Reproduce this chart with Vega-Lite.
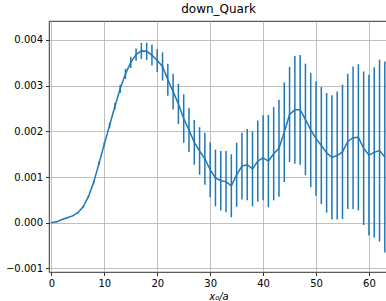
{
  "$schema": "https://vega.github.io/schema/vega-lite/v6.json",
  "width": 339,
  "height": 251,
  "autosize": "none",
  "padding": {"left": 49, "top": 21, "right": 0, "bottom": 29},
  "title": {"text": "down_Quark", "fontSize": 12, "font": "DejaVu Sans", "fontWeight": "normal", "color": "black", "offset": 5},
  "config": {
    "view": {"stroke": "black", "strokeWidth": 0.8},
    "axis": {
      "domain": false,
      "grid": true,
      "gridColor": "#b0b0b0",
      "gridWidth": 0.8,
      "tickColor": "black",
      "tickSize": 3.5,
      "tickWidth": 0.8,
      "labelFont": "DejaVu Sans",
      "labelFontSize": 10,
      "labelColor": "black",
      "labelPadding": 3,
      "titleFont": "DejaVu Sans",
      "titleColor": "black"
    }
  },
  "data": {"values": [
    {"x": 0, "y": 0.0, "err": 0.00001},
    {"x": 1, "y": 0.00002, "err": 0.00001},
    {"x": 2, "y": 0.00007, "err": 0.00001},
    {"x": 3, "y": 0.00011, "err": 0.00001},
    {"x": 4, "y": 0.00015, "err": 0.00001},
    {"x": 5, "y": 0.00022, "err": 0.00001},
    {"x": 6, "y": 0.00035, "err": 0.00002},
    {"x": 7, "y": 0.00057, "err": 0.00002},
    {"x": 8, "y": 0.00089, "err": 0.00003},
    {"x": 9, "y": 0.0013, "err": 0.00004},
    {"x": 10, "y": 0.00172, "err": 0.00005},
    {"x": 11, "y": 0.00213, "err": 0.00006},
    {"x": 12, "y": 0.00255, "err": 0.00007},
    {"x": 13, "y": 0.00293, "err": 0.00009},
    {"x": 14, "y": 0.00326, "err": 0.00011},
    {"x": 15, "y": 0.00351, "err": 0.000124},
    {"x": 16, "y": 0.00368, "err": 0.000135},
    {"x": 17, "y": 0.00376, "err": 0.000175},
    {"x": 18, "y": 0.00375, "err": 0.00019},
    {"x": 19, "y": 0.00367, "err": 0.00023},
    {"x": 20, "y": 0.00355, "err": 0.00025},
    {"x": 21, "y": 0.00342, "err": 0.00031},
    {"x": 22, "y": 0.00313, "err": 0.00035},
    {"x": 23, "y": 0.00287, "err": 0.00039},
    {"x": 24, "y": 0.0026, "err": 0.00044},
    {"x": 25, "y": 0.00228, "err": 0.00053},
    {"x": 26, "y": 0.00203, "err": 0.00048},
    {"x": 27, "y": 0.00176, "err": 0.00049},
    {"x": 28, "y": 0.00157, "err": 0.00052},
    {"x": 29, "y": 0.0014, "err": 0.00057},
    {"x": 30, "y": 0.00116, "err": 0.0006},
    {"x": 31, "y": 0.00098, "err": 0.00062},
    {"x": 32, "y": 0.00092, "err": 0.00065},
    {"x": 33, "y": 0.0009, "err": 0.00067},
    {"x": 34, "y": 0.00081, "err": 0.00069},
    {"x": 35, "y": 0.00105, "err": 0.0007},
    {"x": 36, "y": 0.00124, "err": 0.00073},
    {"x": 37, "y": 0.00127, "err": 0.00078},
    {"x": 38, "y": 0.00118, "err": 0.00082},
    {"x": 39, "y": 0.00135, "err": 0.00089},
    {"x": 40, "y": 0.00142, "err": 0.00093},
    {"x": 41, "y": 0.00135, "err": 0.00101},
    {"x": 42, "y": 0.00151, "err": 0.00102},
    {"x": 43, "y": 0.00163, "err": 0.00106},
    {"x": 44, "y": 0.00198, "err": 0.00109},
    {"x": 45, "y": 0.00237, "err": 0.00104},
    {"x": 46, "y": 0.00247, "err": 0.00118},
    {"x": 47, "y": 0.00247, "err": 0.0012},
    {"x": 48, "y": 0.00226, "err": 0.00122},
    {"x": 49, "y": 0.00203, "err": 0.00125},
    {"x": 50, "y": 0.00184, "err": 0.00125},
    {"x": 51, "y": 0.00169, "err": 0.00128},
    {"x": 52, "y": 0.00153, "err": 0.00131},
    {"x": 53, "y": 0.00143, "err": 0.00136},
    {"x": 54, "y": 0.00147, "err": 0.0014},
    {"x": 55, "y": 0.00155, "err": 0.00147},
    {"x": 56, "y": 0.00178, "err": 0.00148},
    {"x": 57, "y": 0.00186, "err": 0.00156},
    {"x": 58, "y": 0.00187, "err": 0.0016},
    {"x": 59, "y": 0.00163, "err": 0.00168},
    {"x": 60, "y": 0.00148, "err": 0.00176},
    {"x": 61, "y": 0.00154, "err": 0.00186},
    {"x": 62, "y": 0.00158, "err": 0.00199},
    {"x": 63, "y": 0.00144, "err": 0.00209}
  ]},
  "layer": [
    {
      "mark": {"type": "errorbar", "color": "#1f77b4", "thickness": 1.5},
      "encoding": {
        "x": {"field": "x", "type": "quantitative", "scale": {"domain": [-0.45, 63.6], "nice": false, "zero": false},
              "axis": {"values": [0, 10, 20, 30, 40, 50, 60], "title": "x₀/a", "titleFontStyle": "italic", "titleFontWeight": "normal", "titleFontSize": 10, "titlePadding": 3}},
        "y": {"field": "y", "type": "quantitative", "scale": {"domain": [-0.001077, 0.004414], "nice": false, "zero": false},
              "axis": {"values": [-0.001, 0, 0.001, 0.002, 0.003, 0.004], "format": ".3f", "title": null}},
        "yError": {"field": "err"}
      }
    },
    {
      "mark": {"type": "line", "color": "#1f77b4", "strokeWidth": 1.5},
      "encoding": {
        "x": {"field": "x", "type": "quantitative"},
        "y": {"field": "y", "type": "quantitative"}
      }
    }
  ]
}
